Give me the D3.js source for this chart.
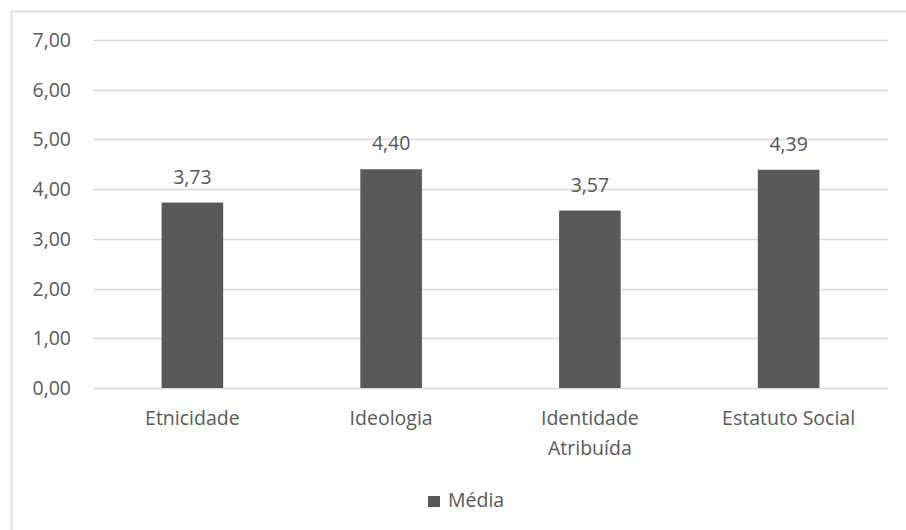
<!DOCTYPE html>
<html><head><meta charset="utf-8">
<script src="https://cdn.jsdelivr.net/npm/d3@7"></script>
<style>body{margin:0;background:#fff}svg{display:block}text{font-family:"Open Sans","Noto Sans",sans-serif;fill:#595959}</style>
</head><body><svg width="906" height="530"></svg>
<script>
const categories = [["Etnicidade"], ["Ideologia"], ["Identidade", "Atribuída"], ["Estatuto Social"]];
const values = [3.73, 4.40, 3.57, 4.39];
const yTicks = [0, 1, 2, 3, 4, 5, 6, 7];
const seriesName = "Média";

(function () {
const svg = d3.select("svg");
const fmt = v => v.toFixed(2).replace(".", ",");
const pL = 93, pR = 888, pT = 40, pB = 388;
const fs = 19.5;
const keys = categories.map(c => c.join(" "));
const x = d3.scaleBand().domain(keys).range([pL, pR]).paddingInner(0.69).paddingOuter(0.345);
const y = d3.scaleLinear().domain([0, 7]).range([pB, pT]);

svg.append("rect").attr("x", 11.5).attr("y", 11.5).attr("width", 920).attr("height", 540)
  .attr("fill", "#fff").attr("stroke", "#d9d9d9").attr("stroke-width", 1.5);

svg.append("g").selectAll("line").data(yTicks).join("line")
  .attr("x1", pL).attr("x2", pR).attr("y1", d => Math.round(y(d)) + 0.5).attr("y2", d => Math.round(y(d)) + 0.5)
  .attr("stroke", "#d9d9d9").attr("stroke-width", 1.3);

svg.append("g").selectAll("text").data(yTicks).join("text")
  .attr("x", 71).attr("y", d => y(d) + 7).attr("text-anchor", "end").attr("font-size", fs).text(d => fmt(d));

svg.append("g").selectAll("rect").data(values).join("rect")
  .attr("x", (d, i) => x(keys[i])).attr("width", x.bandwidth())
  .attr("y", d => y(d)).attr("height", d => pB - y(d)).attr("fill", "#595959");

svg.append("g").selectAll("text").data(values).join("text")
  .attr("x", (d, i) => x(keys[i]) + x.bandwidth() / 2).attr("y", d => y(d) - 19)
  .attr("text-anchor", "middle").attr("font-size", fs).text(d => fmt(d));

const cat = svg.append("g").selectAll("text").data(categories).join("text")
  .attr("x", (d, i) => x(keys[i]) + x.bandwidth() / 2).attr("y", 425)
  .attr("text-anchor", "middle").attr("font-size", fs);
cat.selectAll("tspan").data(d => d).join("tspan")
  .attr("x", function() { return this.parentNode.getAttribute("x"); })
  .attr("dy", (d, i) => i === 0 ? 0 : 30).text(d => d);

svg.append("rect").attr("x", 428).attr("y", 496).attr("width", 12).attr("height", 11).attr("fill", "#595959");
svg.append("text").attr("x", 448).attr("y", 507).attr("font-size", fs).text(seriesName);
})();
</script></body></html>
